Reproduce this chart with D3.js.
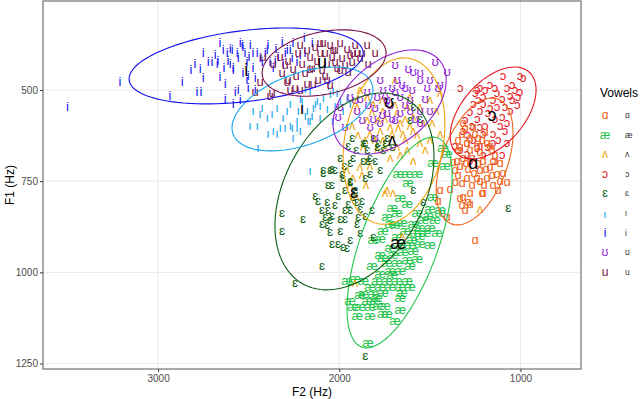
<!DOCTYPE html>
<html>
<head>
<meta charset="utf-8">
<script src="https://cdn.jsdelivr.net/npm/d3@7"></script>
<style>
body { margin: 0; background: #fff; }
text { font-family: "Liberation Sans", Arial, "DejaVu Sans", sans-serif; }
</style>
</head>
<body>
<div id="chart"></div>
<script>
// vowel categories (legend order) and colours
var vowels = ["ɑ", "æ", "ʌ", "ɔ", "ɛ", "ɪ", "i", "ʊ", "u"];
var vowelColors = ["#F0641A", "#22C44C", "#F0A30A", "#E6141E", "#0B5E10", "#16A8F0", "#1010F0", "#8F22D6", "#7A1048"];

// tokens: [F2, F1] in Hz
var f_a = [[1317,590],[1261,601],[1322,618],[1278,629],[1234,629],[1195,615],[1294,645],[1239,651],[1184,643],[1333,656],[1278,664],[1223,670],[1156,664],[1317,684],[1206,692],[1151,692],[1333,706],[1289,714],[1223,719],[1167,711],[1112,700],[1344,733],[1294,739],[1239,741],[1184,739],[1129,728],[1322,755],[1267,760],[1223,747],[1151,760],[1361,719],[1372,697],[1096,725],[1074,752],[1388,769],[1317,793],[1212,780],[1322,815],[1278,810],[1305,829],[1443,774],[1454,802],[1289,807],[1250,911],[1405,848],[1206,780],[1112,747],[1350,692],
  [1344,637],[1305,604],[1250,618],[1211,637],[1167,651],[1140,678],[1267,686],[1233,700],[1189,714],[1344,664],[1300,700],[1256,725],[1200,760],[1360,752],[1156,733],[1123,774],[1278,780],[1333,796]];
var f_ae = [[1664,796],[1625,810],[1708,821],[1570,837],[1681,837],[1736,848],[1499,824],[1443,835],[1537,856],[1592,865],[1653,862],[1719,865],[1758,884],[1554,876],[1499,876],[1460,892],[1526,892],[1581,892],[1609,925],[1554,920],[1499,925],[1774,906],[1813,911],[1758,958],[1703,952],[1648,944],[1592,939],[1736,974],[1681,974],[1625,966],[1570,961],[1774,1002],[1719,994],[1664,994],[1791,1021],[1736,1021],[1681,1021],[1625,1021],[1830,1040],[1774,1040],[1719,1040],[1664,1040],[1609,1040],[1912,1016],[1868,1021],[1868,1057],[1813,1057],[1758,1054],[1846,1076],[1791,1070],[1924,1095],[1885,1095],[1830,1095],[1786,1090],[1664,1070],[1830,1117],[1758,1112],[1664,1103],[1841,1191],[1957,1021],[1681,903],[1482,700],[1416,706],[1405,673],[1625,728],[1620,755],[1570,728],[1675,728],[1482,793],[1443,829],[1427,659],[1736,1112],
  [1692,870],[1636,884],[1598,911],[1664,925],[1719,933],[1554,898],[1509,843],[1471,856],[1774,952],[1819,980],[1708,1007],[1653,1054],[1802,1076],[1747,1090],[1885,1062],[1901,1117],[1692,1131],[1609,980],[1940,1076]];
var f_wedge = [[1885,500],[1846,519],[1813,536],[1758,555],[1681,563],[1625,546],[1592,574],[1664,590],[1719,601],[1774,610],[1648,618],[1592,610],[1537,590],[1758,637],[1681,656],[1625,664],[1554,645],[1499,637],[1791,664],[1719,684],[1592,692],[1868,656],[1830,618],[1609,519],[1554,546],[1443,618],[1499,527],[1443,508],[1846,582],[1902,546],[1747,782],[1703,782],[1653,898],[1913,1029],[1223,824],[1957,719],[1924,739],[1885,711],[1846,692],[1802,637],[1736,774],[1692,472],
  [1929,596],[1896,623],[1857,637],[1819,560],[1785,582],[1747,577],[1708,618],[1675,604],[1636,637],[1609,596],[1570,623],[1526,664],[1487,588],[1465,555],[1664,678],[1747,659],[1830,706],[1874,733],[1940,760],[1907,788],[1852,760],[1692,541],[1636,577],[1763,527]];
var f_open_o = [[1096,459],[1002,459],[1223,492],[1168,486],[1074,494],[1030,500],[1129,508],[1057,514],[1002,505],[1250,508],[1206,519],[1151,527],[1101,522],[1046,527],[1013,519],[1206,536],[1129,546],[1085,546],[1223,555],[1261,536],[1278,560],[1239,577],[1179,563],[1101,574],[1074,588],[1112,596],[1223,601],[1267,596],[1317,610],[1206,618],[1151,618],[1085,610],[1261,637],[1295,645],[1239,659],[1179,656],[1333,664],[1295,673],[1361,651],[1206,678],[1101,678],[1140,692],[1278,692],[1074,645],[1151,645],[985,467],[1333,492],[1239,500],
  [1195,500],[1140,494],[1046,486],[1233,527],[1167,549],[1057,555],[1018,541],[1305,582],[1140,577],[1195,596],[1123,637],[1223,651],[1289,623]];
var f_eps = [[2244,1029],[2095,980],[2316,835],[2316,884],[2200,851],[2133,788],[2117,802],[2089,719],[2051,719],[2023,719],[2062,760],[2040,760],[2067,807],[2095,829],[2078,848],[2062,829],[2040,843],[2095,865],[2067,870],[2051,856],[1995,851],[1968,851],[1995,684],[1984,728],[1979,741],[1940,747],[1951,810],[1968,829],[1940,829],[1924,793],[1902,807],[1885,824],[1896,848],[1902,865],[1885,892],[1857,739],[1819,829],[1813,903],[2040,920],[2007,920],[1979,930],[1957,933],[1951,651],[1868,643],[1846,664],[1791,656],[1758,664],[1747,645],[1940,700],[1868,692],[1929,629],[1857,645],[1813,629],[1786,645],[1736,631],[1708,656],[1592,546],[1609,582],[1554,577],[1924,684],[1830,684],[2089,725],[2040,714],[1940,752],[1830,728],[1068,821],[1857,1227],[1592,774],[1537,807],
  [2006,788],[1968,774],[2023,815],[1912,774],[1874,802],[1857,843],[1995,884],[1940,911],[2051,889],[1841,692],[1802,692],[1774,719],[1907,664],[1973,706]];
var f_ii = [[2492,596],[2453,596],[2476,555],[2426,546],[2398,574],[2393,618],[2371,563],[2343,618],[2326,601],[2310,574],[2288,555],[2260,601],[2255,629],[2233,582],[2227,555],[2205,527],[2188,568],[2172,582],[2150,568],[2133,536],[2161,719],[2448,656],[2437,563],[2365,610],[2343,546],[2299,601],[2271,536],[2233,601],[2177,555],[2161,582],[2144,546],[2122,527],[2106,574],[2089,519],[2067,549],[2050,508],[2039,582],[2012,505],[1995,527],[1979,555],[1957,519],[1940,536],[2061,486],[2161,500],[2216,522],[2188,494],[2034,500],
  [2271,596],[2216,610],[2106,541],[2023,541]];
var f_i = [[3500,545],[3210,478],[2935,514],[2867,478],[2785,505],[2763,505],[2818,445],[2796,426],[2768,440],[2751,467],[2751,398],[2724,423],[2702,423],[2674,426],[2669,418],[2658,464],[2641,390],[2636,437],[2619,398],[2602,385],[2602,426],[2586,437],[2564,398],[2558,500],[2547,371],[2531,382],[2531,453],[2520,398],[2509,423],[2503,459],[2498,409],[2476,398],[2476,437],[2464,467],[2453,396],[2630,522],[2586,536],[2398,390],[2382,423],[2365,437],[2337,409],[2315,368],[2299,398],[2271,390],[2255,371],[2233,423],[2194,357],[2216,404],[2310,426],[2437,412],[2409,396],[2354,418],[2288,390],[2189,398],[2150,371],[2658,371],[2591,390],[2536,376],[2575,505],[2503,492],[2509,472],[2630,481],[2586,445],
  [2685,404],[2614,418],[2558,412],[2492,376],[2426,423],[2393,376],[2349,385],[2260,412],[2464,500],[2547,527]];
var f_hs = [[1692,431],[1620,440],[1592,450],[1554,453],[1471,423],[1405,450],[1454,494],[1515,492],[1554,472],[1681,472],[1636,492],[1708,494],[1774,472],[1846,505],[1791,519],[1736,527],[1664,519],[1609,527],[1554,555],[1609,555],[1664,563],[1736,563],[1813,577],[1874,582],[1901,555],[1940,519],[1995,546],[2006,574],[1968,601],[1830,601],[1774,590],[1802,629],[1499,555],[1554,590],[1885,522],[1719,541],[1692,582],[1758,500],
  [1747,514],[1692,505],[1653,486],[1598,500],[1802,549],[1763,568],[1636,541],[1581,577],[1708,577],[1912,527],[1841,541],[1526,522],[1499,472],[1443,486]];
var f_u = [[2464,505],[2371,508],[2288,478],[2282,418],[2255,440],[2227,396],[2205,426],[2188,453],[2177,481],[2161,409],[2150,437],[2133,382],[2122,418],[2106,371],[2095,445],[2078,396],[2067,426],[2050,376],[2039,409],[2023,390],[2012,437],[1995,371],[1984,412],[1957,385],[1940,404],[1912,376],[1901,398],[1846,376],[2271,500],[2244,492],[2144,481],[2216,500],[2067,472],[2177,390],[2326,409],[2365,426],[2315,453],[2382,514],[2420,409],[2437,478],[2282,472],[2089,371],[2034,390],[1923,398],[1841,426],[1802,398],[1995,445],[1951,450],[1874,396],
  [2216,376],[2161,440],[2106,396],[2078,459],[2023,423],[1968,431],[1929,423],[1885,412],[2238,459],[2117,472],[2051,486],[2299,431]];

// means (label positions) and 95% ellipse parameters, legend order
var meanF2 = [1261, 1675, 1708, 1157, 1918, 2205, 2514, 1725, 2095];
var meanF1 = [700, 920, 637, 568, 780, 546, 445, 533, 423];
var ellF2 = [1253, 1667, 1698, 1151, 1916, 2203, 2514, 1722, 2084];
var ellF1 = [696, 918, 640, 563, 778, 552, 434, 533, 426];
var ellA = [212, 290, 281, 237, 439, 389, 646, 312, 342];   // half extent along F2
var ellB = [174, 289, 228, 126, 270, 115, 104, 143, 91];    // half extent along F1
var ellR = [0.45, 0.63, 0.2, 0.5, 0.35, 0.45, 0.34, 0.42, 0.3];

var xTicks = [3000, 2000, 1000];
var yTicks = [500, 750, 1000, 1250];

var tokens = [f_a, f_ae, f_wedge, f_open_o, f_eps, f_ii, f_i, f_hs, f_u];
var drawOrder = [3, 0, 1, 2, 4, 5, 6, 8, 7];

// ɪ is a plain bar in the original, Lato draws it that way
function glyphFont(v) {
    return v === "ɪ" ? "Lato, sans-serif" : null;
}

var svgWidth = 640;
var svgHeight = 399;
var margin = { top: 1, right: 59, bottom: 30, left: 43 };
var width = svgWidth - margin.left - margin.right;
var height = svgHeight - margin.top - margin.bottom;

var svg = d3.select("#chart")
    .append("svg")
    .attr("width", svgWidth)
    .attr("height", svgHeight);

var chartGroup = svg.append("g")
    .attr("transform", `translate(${margin.left},${margin.top})`);

// reversed axes, like a vowel chart
var x = d3.scaleLinear().domain([3635, 666]).range([0, width]);
var y = d3.scaleLinear().domain([256, 1265]).range([0, height]);

// grid
chartGroup.selectAll(".gx").data(xTicks).enter().append("line")
    .attr("x1", d => x(d)).attr("x2", d => x(d))
    .attr("y1", 0).attr("y2", height)
    .attr("stroke", "#EBEBEB").attr("stroke-width", 1.1);
chartGroup.selectAll(".gy").data(yTicks).enter().append("line")
    .attr("y1", d => y(d)).attr("y2", d => y(d))
    .attr("x1", 0).attr("x2", width)
    .attr("stroke", "#EBEBEB").attr("stroke-width", 1.1);

// axes
var bottomAxis = d3.axisBottom(x).tickValues(xTicks).tickFormat(d3.format("d")).tickSize(3).tickPadding(3);
var leftAxis = d3.axisLeft(y).tickValues(yTicks).tickFormat(d3.format("d")).tickSize(3).tickPadding(2);

var gx = chartGroup.append("g")
    .attr("transform", `translate(0, ${height})`)
    .call(bottomAxis);
var gy = chartGroup.append("g").call(leftAxis);
[gx, gy].forEach(function (g) {
    g.select(".domain").remove();
    g.selectAll("line").attr("stroke", "#333");
    g.selectAll("text").attr("fill", "#4D4D4D").style("font-size", "10px");
});

// tokens
drawOrder.forEach(function (k) {
    chartGroup.append("g").selectAll("text")
        .data(tokens[k])
        .enter()
        .append("text")
        .attr("x", d => x(d[0]))
        .attr("y", d => y(d[1]))
        .attr("text-anchor", "middle")
        .attr("dominant-baseline", "central")
        .attr("fill", vowelColors[k])
        .style("font-size", "13px")
        .style("font-family", glyphFont(vowels[k]))
        .text(vowels[k]);
});

// ellipses
var line = d3.line()
    .x(d => x(d[0]))
    .y(d => y(d[1]))
    .curve(d3.curveLinearClosed);

vowels.forEach(function (v, k) {
    var ring = d3.range(0, 100).map(function (j) {
        var t = j / 100 * 2 * Math.PI;
        var r = ellR[k];
        return [ellF2[k] + ellA[k] * Math.cos(t),
                ellF1[k] + ellB[k] * (r * Math.cos(t) + Math.sqrt(1 - r * r) * Math.sin(t))];
    });
    chartGroup.append("path")
        .attr("d", line(ring))
        .attr("fill", "none")
        .attr("stroke", vowelColors[k])
        .attr("stroke-width", 1.1);
});

// means
chartGroup.selectAll(".mean").data(vowels).enter().append("text")
    .attr("x", (d, k) => x(meanF2[k]))
    .attr("y", (d, k) => y(meanF1[k]))
    .attr("text-anchor", "middle")
    .attr("dominant-baseline", "central")
    .attr("fill", "#000")
    .style("font-size", "18px")
    .style("font-family", d => glyphFont(d))
    .text(d => d);

// panel border
chartGroup.append("rect")
    .attr("x", 0).attr("y", 0)
    .attr("width", width).attr("height", height)
    .attr("fill", "none")
    .attr("stroke", "#555")
    .attr("stroke-width", 1);

// axis titles
svg.append("text")
    .attr("x", margin.left + width / 2)
    .attr("y", 392)
    .attr("text-anchor", "middle")
    .attr("dominant-baseline", "central")
    .style("font-size", "12px")
    .text("F2 (Hz)");

svg.append("text")
    .attr("transform", `translate(10, ${margin.top + height / 2}) rotate(-90)`)
    .attr("text-anchor", "middle")
    .attr("dominant-baseline", "central")
    .style("font-size", "12px")
    .text("F1 (Hz)");

// legend
var legend = svg.append("g").attr("transform", "translate(600, 93)");
legend.append("text")
    .attr("x", 0).attr("y", 0)
    .attr("dominant-baseline", "central")
    .style("font-size", "12px")
    .text("Vowels");
var item = legend.selectAll(".item").data(vowels).enter().append("g")
    .attr("transform", (d, k) => `translate(0, ${22 + k * 19.6})`);
item.append("text")
    .attr("x", 5)
    .attr("text-anchor", "middle")
    .attr("dominant-baseline", "central")
    .attr("fill", (d, k) => vowelColors[k])
    .style("font-size", "12px")
    .style("font-family", d => glyphFont(d))
    .text(d => d);
item.append("text")
    .attr("x", 25)
    .attr("dominant-baseline", "central")
    .attr("fill", "#333")
    .style("font-size", "8.5px")
    .style("font-family", d => glyphFont(d))
    .text(d => d);
</script>
</body>
</html>
